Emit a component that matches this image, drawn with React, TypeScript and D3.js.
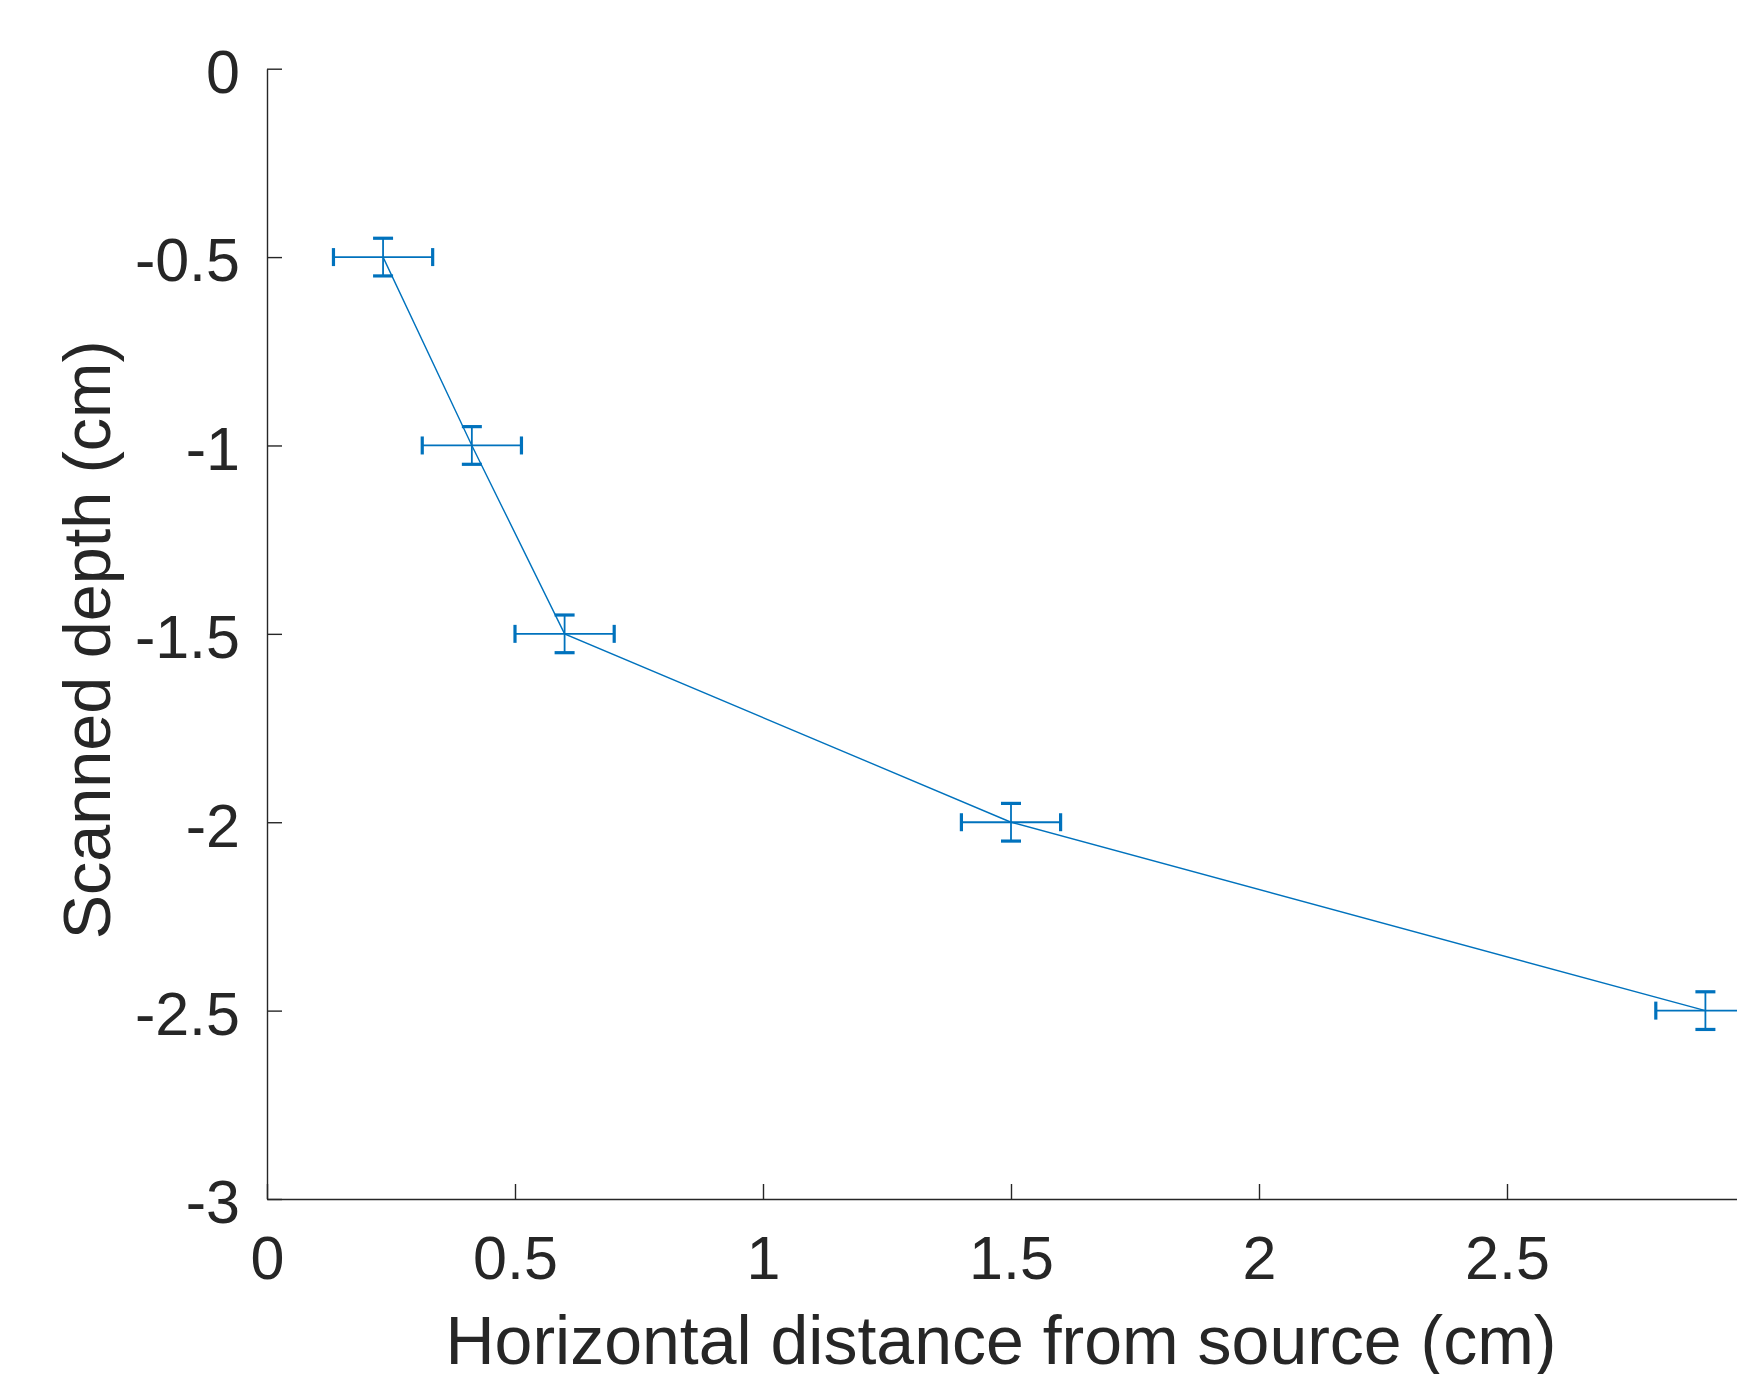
import React, { useRef, useEffect } from "react";
import { select, scaleLinear, axisBottom, axisLeft, line } from "d3";

// measured points (cm)
const distance = [0.234, 0.413, 0.6, 1.5, 2.9];
const depth = [-0.5, -1, -1.5, -2, -2.5];
const distanceErr = [0.1, 0.1, 0.1, 0.1, 0.1];
const depthErr = [0.05, 0.05, 0.05, 0.05, 0.05];

const xTicks = [0, 0.5, 1, 1.5, 2, 2.5];
const yTicks = [0, -0.5, -1, -1.5, -2, -2.5, -3];

const WIDTH = 1737;
const HEIGHT = 1374;
const BLUE = "#0072BD";
const AXIS = "#262626";
const FONT = "'Liberation Sans', Arial, Helvetica, sans-serif";

function ErrorPlot() {
  const svgRef = useRef(null);

  useEffect(() => {
    const svg = select(svgRef.current);
    svg.selectAll("*").remove();

    const x = scaleLinear().domain([0, 3]).range([267, 267 + 6 * 248]);
    const y = scaleLinear().domain([-3, 0]).range([1199, 68.7]);

    const points = distance.map((d, i) => ({
      x: d,
      y: depth[i],
      ex: distanceErr[i],
      ey: depthErr[i],
    }));

    // axes
    const gx = svg
      .append("g")
      .attr("transform", `translate(0,${y(-3)})`)
      .call(
        axisBottom(x)
          .tickValues(xTicks)
          .tickFormat((d) => String(d))
          .tickSizeInner(-15)
          .tickSizeOuter(0)
          .tickPadding(37)
      );
    const gy = svg
      .append("g")
      .attr("transform", `translate(${x(0)},0)`)
      .call(
        axisLeft(y)
          .tickValues(yTicks)
          .tickFormat((d) => String(d))
          .tickSizeInner(-15)
          .tickSizeOuter(0)
          .tickPadding(27)
      );
    gy.selectAll(".tick text").attr("dy", "0.39em");
    [gx, gy].forEach((g) => {
      g.select(".domain").attr("stroke", AXIS).attr("stroke-width", 1.4);
      g.selectAll(".tick line").attr("stroke", AXIS).attr("stroke-width", 1.4);
      g.selectAll(".tick text")
        .attr("fill", AXIS)
        .style("font-family", FONT)
        .style("font-size", "61px");
    });

    // connecting line
    svg
      .append("path")
      .datum(points)
      .attr("fill", "none")
      .attr("stroke", BLUE)
      .attr("stroke-width", 1.4)
      .attr(
        "d",
        line()
          .x((d) => x(d.x))
          .y((d) => y(d.y))
      );

    // error bars
    const bars = svg.append("g").attr("stroke", BLUE);
    const eb = bars.selectAll("g").data(points).join("g");
    eb.append("line")
      .attr("x1", (d) => x(d.x - d.ex))
      .attr("x2", (d) => x(d.x + d.ex))
      .attr("y1", (d) => y(d.y))
      .attr("y2", (d) => y(d.y))
      .attr("stroke-width", 1.8);
    eb.append("line")
      .attr("x1", (d) => x(d.x))
      .attr("x2", (d) => x(d.x))
      .attr("y1", (d) => y(d.y - d.ey))
      .attr("y2", (d) => y(d.y + d.ey))
      .attr("stroke-width", 1.8);
    // caps
    [-1, 1].forEach((s) => {
      eb.append("line")
        .attr("x1", (d) => x(d.x + s * d.ex))
        .attr("x2", (d) => x(d.x + s * d.ex))
        .attr("y1", (d) => y(d.y) - 9)
        .attr("y2", (d) => y(d.y) + 9)
        .attr("stroke-width", 3.2);
      eb.append("line")
        .attr("x1", (d) => x(d.x) - 10)
        .attr("x2", (d) => x(d.x) + 10)
        .attr("y1", (d) => y(d.y + s * d.ey))
        .attr("y2", (d) => y(d.y + s * d.ey))
        .attr("stroke-width", 3.2);
    });

    // axis titles
    svg
      .append("text")
      .attr("x", 1001)
      .attr("y", 1364)
      .attr("text-anchor", "middle")
      .attr("fill", AXIS)
      .style("font-family", FONT)
      .style("font-size", "68px")
      .text("Horizontal distance from source (cm)");
    svg
      .append("text")
      .attr("transform", `translate(110,${(y(0) + y(-3)) / 2 + 6}) rotate(-90)`)
      .attr("text-anchor", "middle")
      .attr("fill", AXIS)
      .style("font-family", FONT)
      .style("font-size", "66.5px")
      .text("Scanned depth (cm)");
  }, []);

  return (
    <svg
      ref={svgRef}
      width={WIDTH}
      height={HEIGHT}
      style={{ position: "absolute", left: 0, top: 0, background: "#fff" }}
    ></svg>
  );
}

export default function App() {
  return <ErrorPlot />;
}
